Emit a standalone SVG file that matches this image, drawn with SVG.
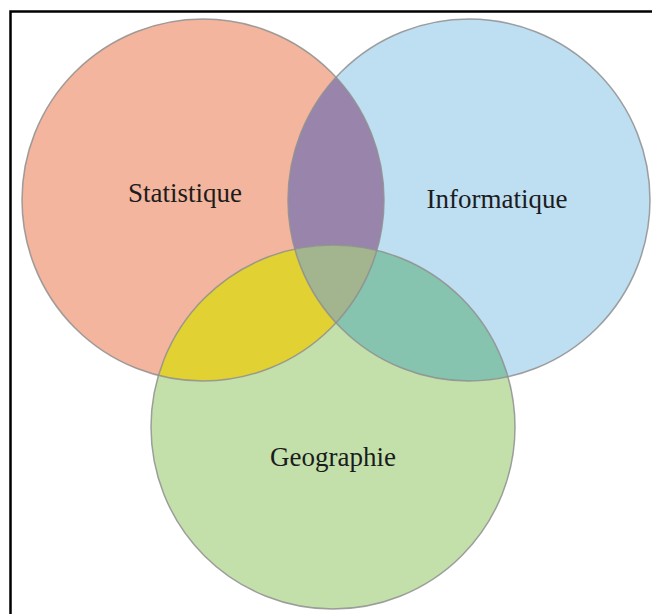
<svg xmlns="http://www.w3.org/2000/svg" width="652" height="614" viewBox="0 0 652 614">
  <style>
    .lbl { font-family: "Liberation Serif", "Times New Roman", serif; font-size: 27px; fill: #1c1c1c; text-anchor: middle; }
    .edge { fill: none; stroke: #8f8f8f; stroke-opacity: 0.85; stroke-width: 1.5; }
  </style>
  <defs>
    <clipPath id="clipS"><circle cx="203" cy="200" r="181"/></clipPath>
    <clipPath id="clipI"><circle cx="469" cy="200" r="181"/></clipPath>
  </defs>
  <rect x="0" y="0" width="652" height="614" fill="#ffffff"/>
  <path d="M10.5 614 V11.5 H652" fill="none" stroke="#000000" stroke-width="2.5"/>

  <g id="statistique">
    <circle cx="203" cy="200" r="181" fill="#F3B59D"/>
  </g>
  <g id="informatique">
    <circle cx="469" cy="200" r="181" fill="#BEDEF2"/>
  </g>
  <g id="geographie">
    <circle cx="333" cy="427" r="182" fill="#C3E0AB"/>
  </g>

  <g id="overlaps">
    <circle cx="469" cy="200" r="181" fill="#9985AC" clip-path="url(#clipS)"/>
    <circle cx="333" cy="427" r="182" fill="#E1D132" clip-path="url(#clipS)"/>
    <circle cx="333" cy="427" r="182" fill="#86C4B0" clip-path="url(#clipI)"/>
    <g clip-path="url(#clipS)">
      <circle cx="333" cy="427" r="182" fill="#A3B58E" clip-path="url(#clipI)"/>
    </g>
  </g>

  <g id="outlines">
    <circle class="edge" cx="203" cy="200" r="181"/>
    <circle class="edge" cx="469" cy="200" r="181"/>
    <circle class="edge" cx="333" cy="427" r="182"/>
  </g>

  <g id="labels">
    <text class="lbl" x="185" y="202">Statistique</text>
    <text class="lbl" x="497" y="208">Informatique</text>
    <text class="lbl" x="333" y="466">Geographie</text>
  </g>
</svg>
